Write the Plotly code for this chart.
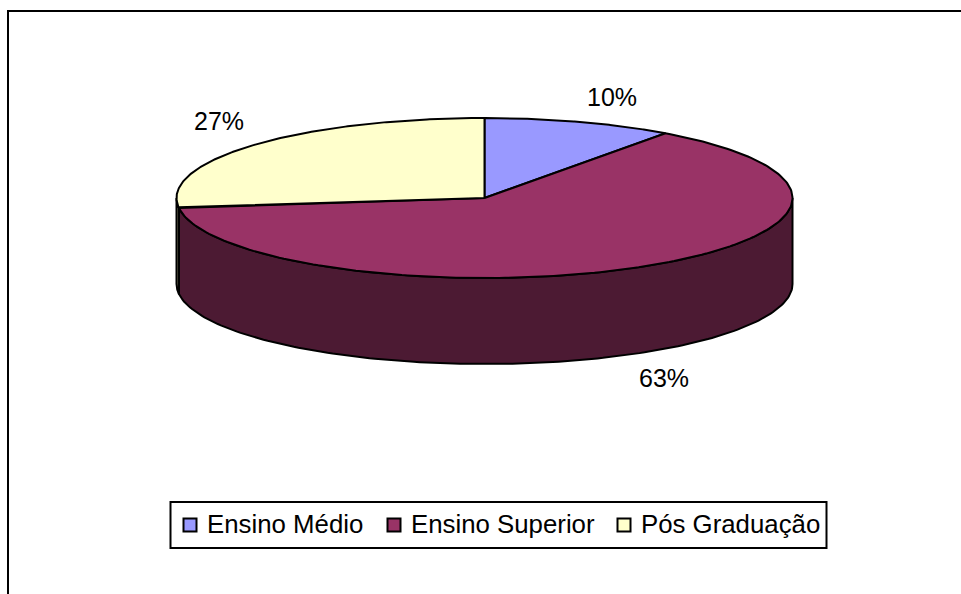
import numpy as np
import plotly.graph_objects as go

categories = ["Ensino Médio", "Ensino Superior", "Pós Graduação"]
values = [10, 63, 27]
labels = ["10%", "63%", "27%"]
top_colors = ["#9999FF", "#993366", "#FFFFCC"]
side_colors = ["#4C4C80", "#4C1A33", "#808066"]

CX, CY, RX, RY, DEPTH = 484.5, 198, 308, 80, 86
W, H = 961, 594


def pt(theta, dy=0.0):
    return CX + RX * np.sin(theta), CY - RY * np.cos(theta) + dy


fig = go.Figure()
total = sum(values)
edges = np.cumsum([0] + values) / total * 2 * np.pi

# side walls: visible part of each slice is where the rim faces the viewer
for i in range(len(values)):
    a0, a1 = max(edges[i], np.pi / 2), min(edges[i + 1], 3 * np.pi / 2)
    if a1 <= a0:
        continue
    t = np.linspace(a0, a1, 160)
    xs, ys = pt(t)
    xb, yb = pt(t[::-1], DEPTH)
    fig.add_trace(go.Scatter(
        x=np.r_[xs, xb, xs[0]], y=np.r_[ys, yb, ys[0]], mode="lines",
        fill="toself", fillcolor=side_colors[i],
        line=dict(color="black", width=2), hoverinfo="skip", showlegend=False))

# top faces
for i in range(len(values)):
    t = np.linspace(edges[i], edges[i + 1], 200)
    xs, ys = pt(t)
    fig.add_trace(go.Scatter(
        x=np.r_[CX, xs, CX], y=np.r_[CY, ys, CY], mode="lines",
        fill="toself", fillcolor=top_colors[i],
        line=dict(color="black", width=2), hoverinfo="skip", showlegend=False))

# data labels
label_pos = [(612, 97), (664, 378), (219, 121)]
for lab, (x, y) in zip(labels, label_pos):
    fig.add_annotation(x=x, y=y, text=lab, showarrow=False,
                       font=dict(family="Liberation Sans", size=25, color="black"))

# legend box
fig.add_shape(type="rect", x0=170.5, y0=502, x1=826.5, y1=548,
              line=dict(color="black", width=2), fillcolor="white")
swatch_x = [190, 394, 624]
text_x = [205, 409, 639]
for i, c in enumerate(categories):
    x = swatch_x[i]
    fig.add_shape(type="rect", x0=x - 6.5, y0=518.5, x1=x + 6.5, y1=531.5,
                  line=dict(color="black", width=2), fillcolor=top_colors[i])
    fig.add_annotation(x=text_x[i], y=524, text=c, showarrow=False, xanchor="left",
                       font=dict(family="Liberation Sans", size=25.8, color="black"))

# chart frame
fig.add_shape(type="rect", x0=8, y0=11, x1=W + 100, y1=H + 100,
              line=dict(color="black", width=2), fillcolor="rgba(0,0,0,0)", layer="below")

fig.update_layout(
    width=W, height=H, margin=dict(l=0, r=0, t=0, b=0),
    paper_bgcolor="white", plot_bgcolor="white", showlegend=False,
    xaxis=dict(range=[0, W], visible=False, fixedrange=True),
    yaxis=dict(range=[H, 0], visible=False, fixedrange=True),
)
fig.write_html("out.html", config={"displayModeBar": False},
               post_script="document.body.style.margin='0';document.body.style.overflow='hidden';")
